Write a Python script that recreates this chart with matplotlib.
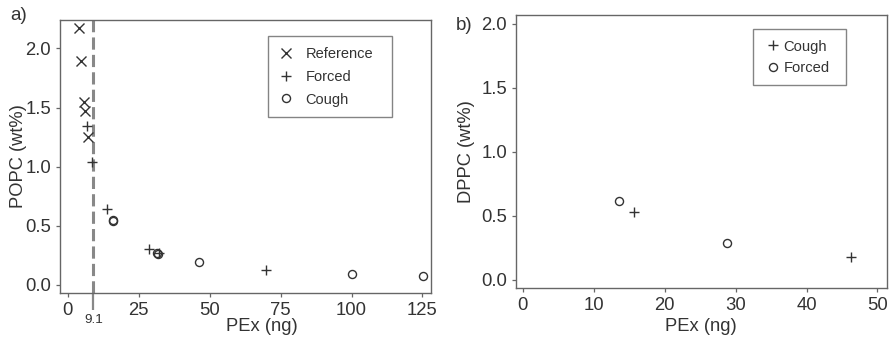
import matplotlib
matplotlib.use("Agg")
import matplotlib.pyplot as plt

plt.rcParams['font.family'] = ['Liberation Sans', 'DejaVu Sans']

# Panel a: POPC content vs. PEx
ref_x = [4.0, 4.6, 5.7, 6.1, 7.0]
ref_y = [2.17, 1.89, 1.55, 1.47, 1.25]
forced_a_x = [6.7, 8.4, 13.7, 28.7, 32.3, 70.0]
forced_a_y = [1.345, 1.04, 0.64, 0.30, 0.27, 0.127]
cough_a_x = [15.8, 16.0, 31.6, 31.9, 46.1, 100.0, 125.2]
cough_a_y = [0.545, 0.54, 0.27, 0.265, 0.19, 0.09, 0.076]
threshold = 9.1

# Panel b: DPPC content vs. PEx
cough_b_x = [15.7, 46.2]
cough_b_y = [0.53, 0.177]
forced_b_x = [13.6, 28.8]
forced_b_y = [0.615, 0.287]

xticks_a = [0, 25, 50, 75, 100, 125]
xticks_b = [0, 10, 20, 30, 40, 50]
yticks = [0.0, 0.5, 1.0, 1.5, 2.0]

W, H = 894, 338
fig = plt.figure(figsize=(W / 100, H / 100), dpi=100)

def px_axes(l, t, r, b):
    return fig.add_axes([l / W, 1 - b / H, (r - l) / W, (b - t) / H])

ink = '#333333'
spine_c = '#666666'
TICK_FS = 13.3
LABEL_FS = 13.2

def style(ax):
    for s in ax.spines.values():
        s.set_color(spine_c)
        s.set_linewidth(1.0)
    ax.tick_params(axis='both', which='major', length=3, width=0.9,
                   color=spine_c, labelsize=TICK_FS, labelcolor=ink, pad=3.5)
    ax.set_yticks(yticks)
    ax.set_yticklabels([f"{v:.1f}" for v in yticks])

mk = dict(linestyle='none', color=ink, mfc='none', mew=1.0)

def style_legend(leg):
    fr = leg.get_frame()
    fr.set_edgecolor(spine_c)
    fr.set_linewidth(1.0)
    for t in leg.get_texts():
        t.set_color(ink)

# ---- panel a ----
ax1 = px_axes(60, 20, 431, 293)
style(ax1)
ax1.set_xlim(-2.7, 128)
ax1.set_ylim(-0.068, 2.24)
ax1.set_xticks(xticks_a)
ax1.set_xticklabels([str(v) for v in xticks_a])
ax1.set_xticks([threshold], minor=True)
ax1.set_xticklabels([str(threshold)], minor=True)
ax1.tick_params(axis='x', which='minor', length=12, width=1.6,
                color='#888888', labelsize=9.7, labelcolor=ink, pad=3)
ax1.axvline(threshold, color='#888888', lw=2.2, dashes=(4, 1.7), zorder=1)

ax1.plot(ref_x, ref_y, marker='x', ms=7, label='Reference', **mk)
ax1.plot(forced_a_x, forced_a_y, marker='+', ms=7, label='Forced', **mk)
ax1.plot(cough_a_x, cough_a_y, marker='o', ms=5.8, label='Cough', **mk)
leg1 = ax1.legend(loc='upper left', bbox_to_anchor=(0.561, 0.655, 0.333, 0.286),
                  mode='expand', fontsize=10.5, frameon=True, fancybox=False,
                  handlelength=1.0, handletextpad=0.8, borderpad=0.75,
                  labelspacing=0.6, borderaxespad=0)
style_legend(leg1)
ax1.set_ylabel('POPC (wt%)', fontsize=LABEL_FS, color=ink)
ax1.yaxis.set_label_coords(-0.089, 0.5)
ax1.set_xlabel('PEx (ng)', fontsize=LABEL_FS, color=ink)
ax1.xaxis.set_label_coords(0.544, -0.092)
fig.text(10 / W, 1 - 15 / H, 'a)', fontsize=13.5, color=ink, va='center', ha='left')

# ---- panel b ----
ax2 = px_axes(516, 15, 886.7, 288.3)
style(ax2)
ax2.set_xlim(-0.94, 51.3)
ax2.set_ylim(-0.065, 2.07)
ax2.set_xticks(xticks_b)
ax2.set_xticklabels([str(v) for v in xticks_b])
ax2.plot(cough_b_x, cough_b_y, marker='+', ms=7, label='Cough', **mk)
ax2.plot(forced_b_x, forced_b_y, marker='o', ms=5.8, label='Forced', **mk)
leg2 = ax2.legend(loc='upper left', bbox_to_anchor=(0.638, 0.746, 0.252, 0.202),
                  mode='expand', fontsize=10.6, frameon=True, fancybox=False,
                  handlelength=1.35, handletextpad=0.05, borderpad=0.7,
                  labelspacing=0.5, borderaxespad=0)
style_legend(leg2)
ax2.set_ylabel('DPPC (wt%)', fontsize=LABEL_FS, color=ink)
ax2.yaxis.set_label_coords(-0.1106, 0.5)
ax2.set_xlabel('PEx (ng)', fontsize=LABEL_FS, color=ink)
ax2.xaxis.set_label_coords(0.5, -0.109)
fig.text(456 / W, 1 - 25 / H, 'b)', fontsize=13.5, color=ink, va='center', ha='left')

fig.savefig('out.png', dpi=100)
